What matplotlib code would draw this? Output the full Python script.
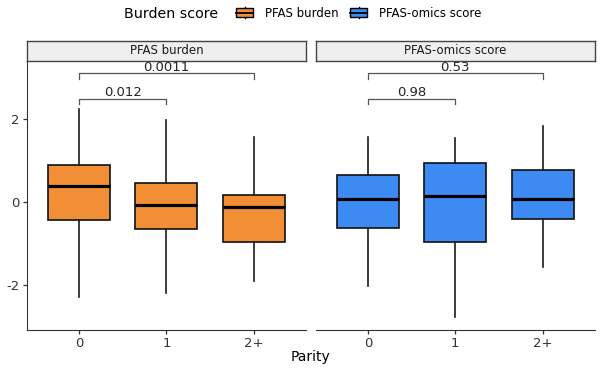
import matplotlib.pyplot as plt
from matplotlib.patches import Rectangle
from matplotlib.lines import Line2D
from matplotlib.legend_handler import HandlerBase

plt.rcParams['font.family'] = ['DejaVu Sans']

parity = ['0', '1', '2+']
panels = ['PFAS burden', 'PFAS-omics score']
colors = ['#F28F36', '#3D8BF2']

# box stats: whisker low, q1, median, q3, whisker high
burden_lo = [-2.29, -2.21, -1.91]
burden_q1 = [-0.45, -0.65, -0.98]
burden_med = [0.39, -0.08, -0.13]
burden_q3 = [0.89, 0.45, 0.16]
burden_hi = [2.24, 1.97, 1.56]

omics_lo = [-2.03, -2.79, -1.57]
omics_q1 = [-0.62, -0.96, -0.42]
omics_med = [0.06, 0.15, 0.07]
omics_q3 = [0.64, 0.94, 0.77]
omics_hi = [1.58, 1.54, 1.84]

# pairwise p-values: (group a, group b, label, bracket height)
burden_pvals = [(1, 2, '0.012', 2.50), (1, 3, '0.0011', 3.11)]
omics_pvals = [(1, 2, '0.98', 2.50), (1, 3, '0.53', 3.11)]

data = [
    (burden_lo, burden_q1, burden_med, burden_q3, burden_hi, burden_pvals),
    (omics_lo, omics_q1, omics_med, omics_q3, omics_hi, omics_pvals),
]


class BoxKey(HandlerBase):
    def create_artists(self, legend, orig, xd, yd, w, h, fs, trans):
        c = orig.get_facecolor()
        x0 = xd + w * 0.05
        box = Rectangle((x0, yd + h * 0.02), w * 0.9, h * 0.96,
                        facecolor=c, edgecolor='black', lw=1.0, transform=trans)
        med = Line2D([x0, x0 + w * 0.9], [yd + h * 0.5] * 2,
                     color='black', lw=1.3, transform=trans)
        w1 = Line2D([xd + w / 2] * 2, [yd - h * 0.15, yd + h * 0.02],
                    color='black', lw=1.0, transform=trans)
        w2 = Line2D([xd + w / 2] * 2, [yd + h * 0.98, yd + h * 1.15],
                    color='black', lw=1.0, transform=trans)
        return [w1, w2, box, med]


fig = plt.figure(figsize=(6, 3.68), dpi=100)
lefts = [0.0445, 0.526]
width = 0.4655
bottom, height = 0.1033, 0.731

for i, (lo, q1, med, q3, hi, pvals) in enumerate(data):
    ax = fig.add_axes([lefts[i], bottom, width, height])
    stats = []
    for j in range(len(parity)):
        stats.append({'whislo': lo[j], 'q1': q1[j], 'med': med[j],
                      'q3': q3[j], 'whishi': hi[j], 'fliers': []})
    ax.bxp(stats, positions=[1, 2, 3], widths=0.71, patch_artist=True,
           showcaps=False,
           boxprops=dict(facecolor=colors[i], edgecolor='#111111', lw=1.2),
           medianprops=dict(color='black', lw=2.3),
           whiskerprops=dict(color='#1a1a1a', lw=1.2))
    ax.set_xlim(0.4, 3.6)
    ax.set_ylim(-3.1, 3.41)
    ax.set_xticks([1, 2, 3])
    ax.set_xticklabels(parity, fontsize=9.5, color='#333333')
    ax.set_yticks([-2, 0, 2])
    ax.tick_params(length=3, width=0.9, color='#333333', pad=2)
    for s in ['top', 'right']:
        ax.spines[s].set_visible(False)
    ax.spines['bottom'].set_color('#333333')
    ax.spines['left'].set_color('#333333')
    if i == 0:
        ax.set_yticklabels(['-2', '0', '2'], fontsize=9.5, color='#333333')
    else:
        ax.spines['left'].set_visible(False)
        ax.tick_params(axis='y', left=False, labelleft=False)

    for a, b, lab, yb in pvals:
        ax.plot([a, a, b, b], [yb - 0.14, yb, yb, yb - 0.14],
                color='#555555', lw=0.9, clip_on=False)
        ax.text((a + b) / 2, yb + 0.06, lab, ha='center', va='baseline',
                fontsize=9.5, color='#222222')

    # facet strip
    sax = fig.add_axes([lefts[i], bottom + height, width, 0.055])
    sax.set_xticks([])
    sax.set_yticks([])
    sax.set_facecolor('#EFEFEF')
    for s in sax.spines.values():
        s.set_color('#444444')
        s.set_linewidth(1.0)
    sax.text(0.5, 0.5, panels[i], ha='center', va='center', fontsize=8.5,
             color='#1a1a1a', transform=sax.transAxes)

fig.text(0.517, 0.03, 'Parity', ha='center', va='center', fontsize=10)

handles = [Rectangle((0, 0), 1, 1, facecolor=c) for c in colors]
fig.text(0.207, 0.962, 'Burden score', ha='left', va='center', fontsize=10.3)
fig.legend(handles, panels, handler_map={Rectangle: BoxKey()},
           loc='center left', bbox_to_anchor=(0.392, 0.962), ncol=2,
           frameon=False, fontsize=8.5, borderpad=0, borderaxespad=0,
           handlelength=1.6, handleheight=0.8, handletextpad=0.9,
           columnspacing=0.95)

fig.savefig('out.png', dpi=100)
